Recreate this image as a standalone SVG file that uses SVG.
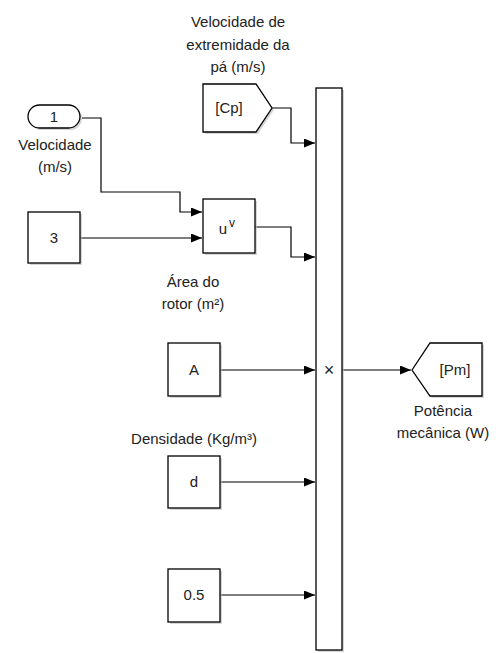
<svg xmlns="http://www.w3.org/2000/svg" width="501" height="653" viewBox="0 0 501 653">
<defs>
<marker id="arr" viewBox="0 0 11 9" refX="11" refY="4.5" markerWidth="11" markerHeight="9" markerUnits="userSpaceOnUse" orient="auto">
<path d="M0,0 L11,4.5 L0,9 Z" fill="#000"/>
</marker>
</defs>
<style>
.blk{fill:#fff;stroke:#000;stroke-width:1.3}
.sh{fill:#bbb;opacity:0.6}
.t{font-family:"Liberation Sans",Arial,sans-serif;font-size:15px;fill:#222;text-anchor:middle}
.w{fill:none;stroke:#000;stroke-width:1.2}
</style>
<rect width="501" height="653" fill="#fff"/>
<g id="connectors">
<path class="w" d="M82,118 H101 V192 H180 V212 H202" marker-end="url(#arr)"/>
<path class="w" d="M80,238 H202" marker-end="url(#arr)"/>
<path class="w" d="M255,227 H291 V257 H315" marker-end="url(#arr)"/>
<path class="w" d="M272,108 H291 V143 H315" marker-end="url(#arr)"/>
<path class="w" d="M220,370 H315" marker-end="url(#arr)"/>
<path class="w" d="M220,482 H315" marker-end="url(#arr)"/>
<path class="w" d="M220,595 H315" marker-end="url(#arr)"/>
<path class="w" d="M342,370 H411" marker-end="url(#arr)"/>
</g>
<g id="inport1">
<rect class="sh" x="30" y="107" width="52" height="23" rx="11.5"/>
<rect class="blk" x="28" y="105" width="52" height="23" rx="11.5"/>
<text class="t" x="54" y="122">1</text>
<text class="t" x="55" y="150">Velocidade</text>
<text class="t" x="55" y="172">(m/s)</text>
</g>
<g id="const3">
<rect class="sh" x="30" y="214" width="52" height="51"/>
<rect class="blk" x="28" y="212" width="52" height="51"/>
<text class="t" x="54" y="243">3</text>
</g>
<g id="gotoCp">
<text class="t" x="238" y="27">Velocidade de</text>
<text class="t" x="238" y="50">extremidade da</text>
<text class="t" x="238" y="72">pá (m/s)</text>
<path class="sh" d="M205,86 H258 L274,110 L258,134 H205 Z"/>
<path class="blk" d="M203,84 H256 L272,108 L256,132 H203 Z"/>
<text class="t" x="229" y="113">[Cp]</text>
</g>
<g id="math">
<rect class="sh" x="205" y="201" width="52" height="54"/>
<rect class="blk" x="203" y="199" width="52" height="54"/>
<text class="t" x="223" y="234">u</text>
<text class="t" x="232" y="227" style="font-size:12px">v</text>
</g>
<g id="constA">
<text class="t" x="193" y="287">Área do</text>
<text class="t" x="193" y="309">rotor (m²)</text>
<rect class="sh" x="170" y="345" width="52" height="53"/>
<rect class="blk" x="168" y="343" width="52" height="53"/>
<text class="t" x="194" y="375">A</text>
</g>
<g id="constd">
<text class="t" x="194" y="444">Densidade (Kg/m³)</text>
<rect class="sh" x="170" y="458" width="52" height="52"/>
<rect class="blk" x="168" y="456" width="52" height="52"/>
<text class="t" x="194" y="487">d</text>
</g>
<g id="const05">
<rect class="sh" x="170" y="571" width="52" height="53"/>
<rect class="blk" x="168" y="569" width="52" height="53"/>
<text class="t" x="194" y="600">0.5</text>
</g>
<g id="product">
<rect class="sh" x="318" y="90" width="26" height="562"/>
<rect class="blk" x="316" y="88" width="26" height="562"/>
<text class="t" x="329" y="376" style="font-size:18px">×</text>
</g>
<g id="gotoPm">
<path class="sh" d="M414,372 L432,345 H484 V398 H432 Z"/>
<path class="blk" d="M412,370 L430,343 H482 V396 H430 Z"/>
<text class="t" x="455" y="375">[Pm]</text>
<text class="t" x="443" y="416">Potência</text>
<text class="t" x="443" y="438">mecânica (W)</text>
</g>
</svg>
